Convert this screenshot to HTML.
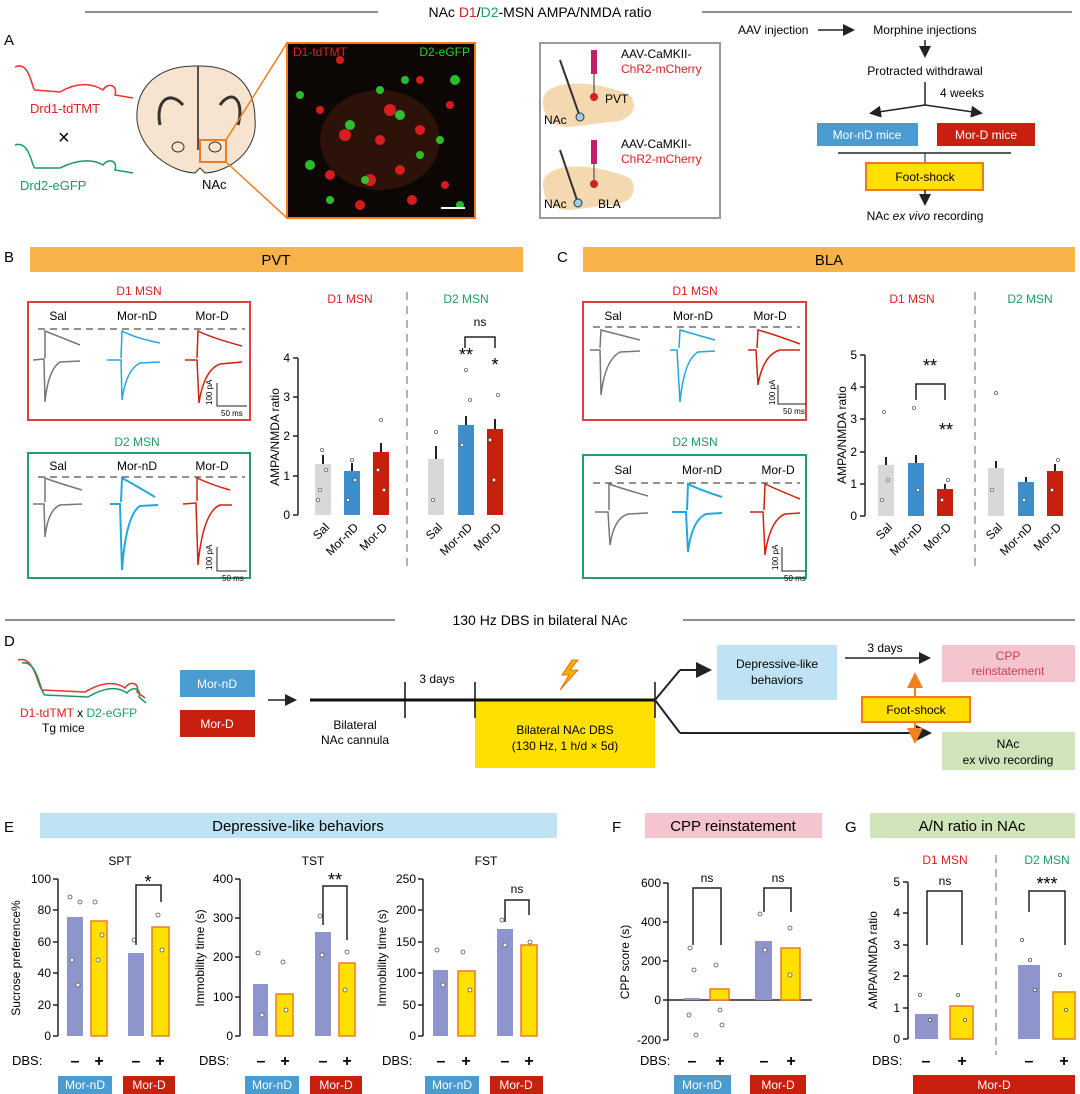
<!DOCTYPE html><html><head><meta charset="utf-8"><style>body{margin:0;background:#fff}svg{display:block}text{font-family:"Liberation Sans",sans-serif}</style></head><body>
<svg width="1080" height="1094" viewBox="0 0 1080 1094" font-size="12">
<defs><marker id="ah" markerWidth="8" markerHeight="8" refX="6" refY="4" orient="auto"><path d="M0,0L8,4L0,8z" fill="#222"/></marker>
<marker id="ao" markerWidth="8" markerHeight="8" refX="6" refY="4" orient="auto"><path d="M0,0L8,4L0,8z" fill="#f08020"/></marker></defs>
<line x1="85" y1="12" x2="378" y2="12" stroke="#222"/><line x1="702" y1="12" x2="1072" y2="12" stroke="#222"/>
<text x="540" y="17" text-anchor="middle" font-size="14">NAc <tspan fill="#e02020">D1</tspan>/<tspan fill="#1aa060">D2</tspan>-MSN AMPA/NMDA ratio</text>
<text x="4" y="45" font-size="15">A</text>
<path d="M15,67 C30,60 32,90 35,90 L60,92 C80,80 95,85 103,90 C108,82 118,85 115,95 L133,98" fill="none" stroke="#f03030" stroke-width="1.5"/>
<text x="30" y="113" fill="#e02020" font-size="13">Drd1-tdTMT</text>
<text x="58" y="144" font-size="20">×</text>
<path d="M15,145 C30,140 32,168 35,168 L60,168 C80,158 95,160 103,165 C108,158 118,160 115,170 L133,173" fill="none" stroke="#1a9a60" stroke-width="1.5"/>
<text x="20" y="190" fill="#1a9a60" font-size="13">Drd2-eGFP</text>
<path d="M195,66 C160,66 135,85 137,120 C140,150 170,172 195,173 L200,168 L205,173 C230,172 258,150 255,120 C255,85 235,66 200,66 Z" fill="#f7e4cf" stroke="#333"/>
<line x1="198" y1="66" x2="198" y2="150" stroke="#222" stroke-width="1.5"/>
<path d="M160,125 C155,100 170,90 183,105 M220,105 C232,88 245,100 238,125" fill="none" stroke="#333" stroke-width="3"/>
<ellipse cx="178" cy="147" rx="6" ry="5" fill="none" stroke="#333"/><ellipse cx="215" cy="147" rx="6" ry="5" fill="none" stroke="#333"/>
<rect x="200" y="140" width="26" height="22" fill="none" stroke="#f07a20" stroke-width="2"/>
<line x1="226" y1="140" x2="287" y2="43" stroke="#f07a20" stroke-width="1.5"/><line x1="226" y1="162" x2="287" y2="218" stroke="#f07a20" stroke-width="1.5"/>
<text x="202" y="189" font-size="13">NAc</text>
<rect x="287" y="43" width="188" height="175" fill="#0c0604" stroke="#f07a20" stroke-width="2"/>
<ellipse cx="380" cy="140" rx="60" ry="50" fill="#6a2a10" opacity=".35"/>
<g fill="#e82020" opacity=".9"><circle cx="340" cy="60" r="4"/><circle cx="390" cy="110" r="6"/><circle cx="345" cy="135" r="6"/><circle cx="400" cy="170" r="5"/><circle cx="320" cy="110" r="4"/><circle cx="420" cy="130" r="5"/><circle cx="380" cy="140" r="5"/><circle cx="450" cy="105" r="4"/><circle cx="360" cy="205" r="5"/><circle cx="412" cy="200" r="5"/><circle cx="445" cy="185" r="4"/><circle cx="330" cy="175" r="5"/><circle cx="370" cy="180" r="6"/><circle cx="420" cy="80" r="4"/></g>
<g fill="#2fd030" opacity=".9"><circle cx="350" cy="125" r="5"/><circle cx="300" cy="95" r="4"/><circle cx="310" cy="165" r="5"/><circle cx="365" cy="180" r="4"/><circle cx="400" cy="115" r="5"/><circle cx="405" cy="80" r="4"/><circle cx="455" cy="80" r="5"/><circle cx="330" cy="200" r="4"/><circle cx="440" cy="140" r="4"/><circle cx="460" cy="205" r="4"/><circle cx="420" cy="155" r="4"/><circle cx="380" cy="90" r="4"/></g>
<text x="293" y="56" fill="#e02020" font-size="12">D1-tdTMT</text><text x="470" y="56" fill="#30d030" font-size="12" text-anchor="end">D2-eGFP</text>
<line x1="441" y1="208" x2="465" y2="208" stroke="#fff" stroke-width="2"/>
<rect x="540" y="43" width="180" height="175" fill="none" stroke="#999" stroke-width="2"/>
<path d="M543,100 C545,80 590,78 630,95 C640,108 630,122 610,122 L570,127 C552,127 543,118 543,100Z" fill="#f4d8b0"/>
<path d="M543,183 C545,163 590,161 630,178 C640,191 630,205 610,205 L570,210 C552,210 543,201 543,183Z" fill="#f4d8b0"/>
<rect x="591" y="50" width="6" height="24" fill="#c0206a"/><line x1="594" y1="74" x2="594" y2="96" stroke="#333"/><circle cx="594" cy="97" r="4" fill="#d02020"/>
<rect x="591" y="140" width="6" height="24" fill="#c0206a"/><line x1="594" y1="164" x2="594" y2="184" stroke="#333"/><circle cx="594" cy="184" r="4" fill="#d02020"/>
<line x1="560" y1="60" x2="580" y2="117" stroke="#333" stroke-width="2"/><circle cx="580" cy="117" r="4" fill="#9cd0f0" stroke="#333"/>
<line x1="560" y1="150" x2="578" y2="203" stroke="#333" stroke-width="2"/><circle cx="578" cy="203" r="4" fill="#9cd0f0" stroke="#333"/>
<text x="544" y="124" font-size="12">NAc</text><text x="605" y="103" font-size="12">PVT</text>
<text x="544" y="208" font-size="12">NAc</text><text x="598" y="208" font-size="12">BLA</text>
<text x="621" y="58" font-size="12">AAV-CaMKII-</text><text x="621" y="73" font-size="12" fill="#e02020">ChR2-mCherry</text>
<text x="621" y="148" font-size="12">AAV-CaMKII-</text><text x="621" y="163" font-size="12" fill="#e02020">ChR2-mCherry</text>
<text x="738" y="34" font-size="12">AAV injection</text><line x1="818" y1="30" x2="852" y2="30" stroke="#222" stroke-width="1.5" marker-end="url(#ah)"/>
<text x="925" y="34" font-size="12" text-anchor="middle">Morphine injections</text>
<line x1="925" y1="40" x2="925" y2="55" stroke="#222" stroke-width="1.5" marker-end="url(#ah)"/>
<text x="925" y="75" font-size="12" text-anchor="middle">Protracted withdrawal</text>
<line x1="925" y1="82" x2="925" y2="105" stroke="#222" stroke-width="1.5"/>
<line x1="925" y1="105" x2="872" y2="113" stroke="#222" stroke-width="1.5" marker-end="url(#ah)"/><line x1="925" y1="105" x2="980" y2="113" stroke="#222" stroke-width="1.5" marker-end="url(#ah)"/>
<text x="940" y="97" font-size="12">4 weeks</text>
<rect x="817" y="123" width="101" height="23" fill="#4a9bd0"/><text x="867" y="139" fill="#fff" text-anchor="middle" font-size="12">Mor-nD mice</text>
<rect x="937" y="123" width="98" height="23" fill="#c8200e"/><text x="986" y="139" fill="#fff" text-anchor="middle" font-size="12">Mor-D mice</text>
<line x1="838" y1="153" x2="1011" y2="153" stroke="#222" stroke-width="1.5"/><line x1="925" y1="153" x2="925" y2="163" stroke="#222"/>
<rect x="866" y="163" width="117" height="27" fill="#ffe000" stroke="#f07a20" stroke-width="2"/><text x="925" y="181" text-anchor="middle" font-size="12">Foot-shock</text>
<line x1="925" y1="190" x2="925" y2="203" stroke="#222" stroke-width="1.5" marker-end="url(#ah)"/>
<text x="925" y="220" text-anchor="middle" font-size="12">NAc <tspan font-style="italic">ex vivo</tspan> recording</text>
<text x="4" y="262" font-size="15">B</text><rect x="30" y="247" width="493" height="25" fill="#f7b24a"/><text x="276" y="265" font-size="15" text-anchor="middle">PVT</text>
<text x="557" y="262" font-size="15">C</text><rect x="583" y="247" width="492" height="25" fill="#f7b24a"/><text x="829" y="265" font-size="15" text-anchor="middle">BLA</text>
<rect x="28" y="302" width="222" height="118" fill="none" stroke="#e04040" stroke-width="2"/>
<text x="139" y="295" fill="#e02020" text-anchor="middle" font-size="12">D1 MSN</text>
<text x="58" y="320" text-anchor="middle" font-size="12">Sal</text><text x="137" y="320" text-anchor="middle" font-size="12">Mor-nD</text><text x="212" y="320" text-anchor="middle" font-size="12">Mor-D</text>
<line x1="38" y1="329" x2="245" y2="329" stroke="#222" stroke-dasharray="7,5"/>
<path d="M33,360 L44,359 L45,402 Q48,370 60,362 L80,361 M45,358 L45,331 Q55,335 80,345" fill="none" stroke="#777" stroke-width="1.5"/>
<path d="M107,360 L121,360 L122,400 Q126,370 140,363 L160,362 M121,358 L122,331 Q135,338 160,343" fill="none" stroke="#20a8e0" stroke-width="1.5"/>
<path d="M185,360 L197,360 L199,403 Q204,370 220,364 L242,362 M197,358 L198,331 Q212,338 242,346" fill="none" stroke="#d02010" stroke-width="1.5"/>
<path d="M217,383 L217,406 L247,406" fill="none" stroke="#222"/><text x="212" y="405" font-size="8" transform="rotate(-90 212 405)">100 pA</text><text x="221" y="416" font-size="8">50 ms</text>
<rect x="28" y="453" width="222" height="125" fill="none" stroke="#20a070" stroke-width="2"/>
<text x="137" y="446" fill="#1aa060" text-anchor="middle" font-size="12">D2 MSN</text>
<text x="58" y="470" text-anchor="middle" font-size="12">Sal</text><text x="137" y="470" text-anchor="middle" font-size="12">Mor-nD</text><text x="212" y="470" text-anchor="middle" font-size="12">Mor-D</text>
<line x1="38" y1="477" x2="245" y2="477" stroke="#222" stroke-dasharray="7,5"/>
<path d="M33,504 L44,504 L45,537 Q48,510 60,505 L82,504 M45,502 L45,478 Q55,482 82,490" fill="none" stroke="#777" stroke-width="1.5"/>
<path d="M110,504 L120,504 L122,570 Q126,515 140,506 L158,505 M121,502 L122,478 Q135,485 155,497" fill="none" stroke="#20a8e0" stroke-width="2"/>
<path d="M183,504 L196,503 L198,565 Q203,512 220,505 L232,505 M197,501 L197,478 Q212,485 230,490" fill="none" stroke="#d02010" stroke-width="1.5"/>
<path d="M217,547 L217,571 L247,571" fill="none" stroke="#222"/><text x="212" y="570" font-size="8" transform="rotate(-90 212 570)">100 pA</text><text x="222" y="581" font-size="8">50 ms</text>
<rect x="583" y="302" width="223" height="118" fill="none" stroke="#e04040" stroke-width="2"/>
<text x="695" y="295" fill="#e02020" text-anchor="middle" font-size="12">D1 MSN</text>
<text x="613" y="320" text-anchor="middle" font-size="12">Sal</text><text x="693" y="320" text-anchor="middle" font-size="12">Mor-nD</text><text x="770" y="320" text-anchor="middle" font-size="12">Mor-D</text>
<line x1="593" y1="327" x2="800" y2="327" stroke="#222" stroke-dasharray="7,5"/>
<path d="M590,350 L600,350 L601,395 Q605,360 620,352 L640,351 M600,348 L601,330 Q612,333 640,340" fill="none" stroke="#777" stroke-width="1.5"/>
<path d="M670,350 L677,350 L680,402 Q684,360 698,352 L715,351 M679,348 L680,330 Q690,333 715,340" fill="none" stroke="#20a8e0" stroke-width="1.5"/>
<path d="M748,350 L756,350 L758,385 Q763,355 780,350 L800,350 M757,348 L758,330 Q770,333 800,344" fill="none" stroke="#d02010" stroke-width="1.5"/>
<path d="M778,385 L778,404 L806,404" fill="none" stroke="#222"/><text x="775" y="405" font-size="8" transform="rotate(-90 775 405)">100 pA</text><text x="783" y="414" font-size="8">50 ms</text>
<rect x="583" y="455" width="223" height="123" fill="none" stroke="#20a070" stroke-width="2"/>
<text x="695" y="446" fill="#1aa060" text-anchor="middle" font-size="12">D2 MSN</text>
<text x="623" y="474" text-anchor="middle" font-size="12">Sal</text><text x="702" y="474" text-anchor="middle" font-size="12">Mor-nD</text><text x="778" y="474" text-anchor="middle" font-size="12">Mor-D</text>
<line x1="593" y1="483" x2="800" y2="483" stroke="#222" stroke-dasharray="7,5"/>
<path d="M595,512 L608,512 L610,545 Q614,518 628,514 L648,513 M609,510 L609,484 Q620,488 648,496" fill="none" stroke="#777" stroke-width="1.5"/>
<path d="M672,512 L686,512 L688,552 Q692,520 706,514 L722,513 M687,510 L688,484 Q700,490 722,497" fill="none" stroke="#20a8e0" stroke-width="2"/>
<path d="M750,512 L763,512 L765,555 Q770,520 785,514 L800,513 M764,510 L765,484 Q778,490 800,499" fill="none" stroke="#d02010" stroke-width="1.5"/>
<path d="M782,547 L782,571 L806,571" fill="none" stroke="#222"/><text x="778" y="570" font-size="8" transform="rotate(-90 778 570)">100 pA</text><text x="784" y="581" font-size="8">50 ms</text>
<g stroke="#222" stroke-width="1.5"><line x1="298" y1="358" x2="298" y2="515"/><line x1="293" y1="358" x2="298" y2="358"/><line x1="293" y1="397" x2="298" y2="397"/><line x1="293" y1="436" x2="298" y2="436"/><line x1="293" y1="476" x2="298" y2="476"/><line x1="293" y1="515" x2="298" y2="515"/></g>
<g font-size="12" text-anchor="end"><text x="290" y="362">4</text><text x="290" y="401">3</text><text x="290" y="440">2</text><text x="290" y="480">1</text><text x="290" y="519">0</text></g>
<text x="279" y="437" font-size="12" text-anchor="middle" transform="rotate(-90 279 437)">AMPA/NMDA ratio</text>
<rect x="315" y="464" width="16" height="51" fill="#d8d8d8"/><rect x="344" y="471" width="16" height="44" fill="#3d8fcc"/><rect x="373" y="452" width="16" height="63" fill="#c8200e"/>
<rect x="428" y="459" width="16" height="56" fill="#d8d8d8"/><rect x="458" y="425" width="16" height="90" fill="#3d8fcc"/><rect x="487" y="429" width="16" height="86" fill="#c8200e"/>
<g stroke="#222" stroke-width="2"><line x1="323" y1="464" x2="323" y2="455"/><line x1="352" y1="471" x2="352" y2="463"/><line x1="381" y1="452" x2="381" y2="443"/><line x1="436" y1="459" x2="436" y2="446"/><line x1="466" y1="425" x2="466" y2="416"/><line x1="495" y1="429" x2="495" y2="419"/></g>
<g fill="#fff" stroke="#666" stroke-width=".8"><circle cx="320" cy="490" r="1.6"/><circle cx="326" cy="470" r="1.6"/><circle cx="322" cy="450" r="1.6"/><circle cx="318" cy="500" r="1.6"/><circle cx="348" cy="500" r="1.6"/><circle cx="355" cy="480" r="1.6"/><circle cx="352" cy="460" r="1.6"/><circle cx="378" cy="470" r="1.6"/><circle cx="384" cy="490" r="1.6"/><circle cx="381" cy="420" r="1.6"/><circle cx="433" cy="500" r="1.6"/><circle cx="436" cy="432" r="1.6"/><circle cx="462" cy="445" r="1.6"/><circle cx="470" cy="400" r="1.6"/><circle cx="466" cy="370" r="1.6"/><circle cx="490" cy="440" r="1.6"/><circle cx="498" cy="395" r="1.6"/><circle cx="494" cy="480" r="1.6"/></g>
<line x1="407" y1="292" x2="407" y2="568" stroke="#666" stroke-dasharray="8,6"/>
<text x="350" y="303" fill="#e02020" text-anchor="middle" font-size="12">D1 MSN</text><text x="466" y="303" fill="#1aa060" text-anchor="middle" font-size="12">D2 MSN</text>
<path d="M465,348 L465,337 L495,337 L495,348" fill="none" stroke="#222" stroke-width="1.5"/><text x="480" y="326" text-anchor="middle" font-size="12">ns</text>
<text x="466" y="361" text-anchor="middle" font-size="18">**</text><text x="495" y="371" text-anchor="middle" font-size="18">*</text>
<g font-size="12" text-anchor="end"><text transform="translate(330,528) rotate(-45)">Sal</text><text transform="translate(359,528) rotate(-45)">Mor-nD</text><text transform="translate(388,528) rotate(-45)">Mor-D</text><text transform="translate(443,528) rotate(-45)">Sal</text><text transform="translate(473,528) rotate(-45)">Mor-nD</text><text transform="translate(502,528) rotate(-45)">Mor-D</text></g>
<g stroke="#222" stroke-width="1.5"><line x1="865" y1="355" x2="865" y2="516"/><line x1="860" y1="355" x2="865" y2="355"/><line x1="860" y1="387" x2="865" y2="387"/><line x1="860" y1="419" x2="865" y2="419"/><line x1="860" y1="452" x2="865" y2="452"/><line x1="860" y1="484" x2="865" y2="484"/><line x1="860" y1="516" x2="865" y2="516"/></g>
<g font-size="12" text-anchor="end"><text x="857" y="359">5</text><text x="857" y="391">4</text><text x="857" y="423">3</text><text x="857" y="456">2</text><text x="857" y="488">1</text><text x="857" y="520">0</text></g>
<text x="846" y="435" font-size="12" text-anchor="middle" transform="rotate(-90 846 435)">AMPA/NMDA ratio</text>
<rect x="878" y="465" width="16" height="51" fill="#d8d8d8"/><rect x="908" y="463" width="16" height="53" fill="#3d8fcc"/><rect x="937" y="489" width="16" height="27" fill="#c8200e"/>
<rect x="988" y="468" width="16" height="48" fill="#d8d8d8"/><rect x="1018" y="482" width="16" height="34" fill="#3d8fcc"/><rect x="1047" y="471" width="16" height="45" fill="#c8200e"/>
<g stroke="#222" stroke-width="2"><line x1="886" y1="465" x2="886" y2="457"/><line x1="916" y1="463" x2="916" y2="455"/><line x1="945" y1="489" x2="945" y2="484"/><line x1="996" y1="468" x2="996" y2="461"/><line x1="1026" y1="482" x2="1026" y2="477"/><line x1="1055" y1="471" x2="1055" y2="464"/></g>
<g fill="#fff" stroke="#666" stroke-width=".8"><circle cx="884" cy="412" r="1.6"/><circle cx="888" cy="480" r="1.6"/><circle cx="882" cy="500" r="1.6"/><circle cx="914" cy="408" r="1.6"/><circle cx="918" cy="490" r="1.6"/><circle cx="942" cy="500" r="1.6"/><circle cx="948" cy="480" r="1.6"/><circle cx="996" cy="393" r="1.6"/><circle cx="992" cy="490" r="1.6"/><circle cx="1024" cy="500" r="1.6"/><circle cx="1052" cy="490" r="1.6"/><circle cx="1058" cy="460" r="1.6"/></g>
<line x1="975" y1="292" x2="975" y2="568" stroke="#666" stroke-dasharray="8,6"/>
<text x="912" y="303" fill="#e02020" text-anchor="middle" font-size="12">D1 MSN</text><text x="1030" y="303" fill="#1aa060" text-anchor="middle" font-size="12">D2 MSN</text>
<path d="M916,400 L916,384 L945,384 L945,400" fill="none" stroke="#222" stroke-width="1.5"/><text x="930" y="372" text-anchor="middle" font-size="18">**</text><text x="946" y="436" text-anchor="middle" font-size="18">**</text>
<g font-size="12" text-anchor="end"><text transform="translate(893,528) rotate(-45)">Sal</text><text transform="translate(923,528) rotate(-45)">Mor-nD</text><text transform="translate(952,528) rotate(-45)">Mor-D</text><text transform="translate(1003,528) rotate(-45)">Sal</text><text transform="translate(1033,528) rotate(-45)">Mor-nD</text><text transform="translate(1062,528) rotate(-45)">Mor-D</text></g>
<line x1="5" y1="620" x2="395" y2="620" stroke="#222"/><line x1="683" y1="620" x2="1075" y2="620" stroke="#222"/>
<text x="540" y="625" text-anchor="middle" font-size="14">130 Hz DBS in bilateral NAc</text>
<text x="4" y="646" font-size="15">D</text>
<path d="M18,660 C35,655 38,688 42,690 L85,692 C105,680 118,683 125,688 C130,680 140,683 137,692 L145,698" fill="none" stroke="#f03030" stroke-width="1.5"/>
<path d="M22,663 C38,660 40,693 45,695 L88,697 C108,685 120,688 127,693 C132,686 142,688 139,697 L146,703" fill="none" stroke="#1a9a60" stroke-width="1.5"/>
<text x="20" y="717" font-size="12"><tspan fill="#e02020">D1-tdTMT</tspan> x <tspan fill="#1aa060">D2-eGFP</tspan></text><text x="42" y="732" font-size="12">Tg mice</text>
<rect x="180" y="670" width="75" height="27" fill="#4a9bd0"/><text x="217" y="688" fill="#fff" text-anchor="middle" font-size="12">Mor-nD</text>
<rect x="180" y="710" width="75" height="27" fill="#c8200e"/><text x="217" y="728" fill="#fff" text-anchor="middle" font-size="12">Mor-D</text>
<line x1="268" y1="700" x2="294" y2="700" stroke="#222" stroke-width="1.5" marker-end="url(#ah)"/>
<rect x="475" y="700" width="180" height="68" fill="#ffe000"/>
<text x="565" y="734" text-anchor="middle" font-size="12">Bilateral NAc DBS</text><text x="565" y="750" text-anchor="middle" font-size="12">(130 Hz, 1 h/d × 5d)</text>
<line x1="310" y1="700" x2="655" y2="700" stroke="#111" stroke-width="3"/>
<g stroke="#111" stroke-width="1.5"><line x1="405" y1="682" x2="405" y2="718"/><line x1="475" y1="682" x2="475" y2="718"/><line x1="655" y1="682" x2="655" y2="718"/></g>
<text x="437" y="683" text-anchor="middle" font-size="12">3 days</text>
<text x="355" y="729" text-anchor="middle" font-size="12">Bilateral</text><text x="355" y="744" text-anchor="middle" font-size="12">NAc cannula</text>
<path d="M572,660 L562,675 L569,675 L560,690 L578,670 L570,670 L578,660Z" fill="#f7b000" stroke="#e06000" stroke-width=".8"/>
<line x1="655" y1="700" x2="680" y2="670" stroke="#222" stroke-width="2"/><line x1="680" y1="670" x2="708" y2="670" stroke="#222" stroke-width="2" marker-end="url(#ah)"/>
<line x1="655" y1="700" x2="680" y2="733" stroke="#222" stroke-width="2"/><line x1="680" y1="733" x2="928" y2="733" stroke="#222" stroke-width="2" marker-end="url(#ah)"/>
<rect x="717" y="645" width="120" height="55" fill="#bfe3f3"/><text x="777" y="668" text-anchor="middle" font-size="12">Depressive-like</text><text x="777" y="684" text-anchor="middle" font-size="12">behaviors</text>
<line x1="845" y1="658" x2="928" y2="658" stroke="#222" stroke-width="1.5" marker-end="url(#ah)"/><text x="885" y="652" text-anchor="middle" font-size="12">3 days</text>
<rect x="942" y="645" width="133" height="37" fill="#f4c4cf"/><text x="1008" y="660" text-anchor="middle" font-size="12" fill="#d04050">CPP</text><text x="1008" y="675" text-anchor="middle" font-size="12" fill="#d04050">reinstatement</text>
<line x1="915" y1="697" x2="915" y2="676" stroke="#f08020" stroke-width="2" marker-end="url(#ao)"/><line x1="915" y1="722" x2="915" y2="740" stroke="#f08020" stroke-width="2" marker-end="url(#ao)"/>
<rect x="862" y="697" width="108" height="25" fill="#ffe000" stroke="#f07a20" stroke-width="2"/><text x="916" y="714" text-anchor="middle" font-size="12">Foot-shock</text>
<rect x="942" y="732" width="133" height="38" fill="#cfe4b8"/><text x="1008" y="748" text-anchor="middle" font-size="12">NAc</text><text x="1008" y="764" text-anchor="middle" font-size="12">ex vivo recording</text>
<text x="4" y="832" font-size="15">E</text><rect x="40" y="813" width="517" height="25" fill="#bfe3f3"/><text x="298" y="831" text-anchor="middle" font-size="15">Depressive-like behaviors</text>
<text x="612" y="832" font-size="15">F</text><rect x="645" y="813" width="177" height="25" fill="#f4c4cf"/><text x="733" y="831" text-anchor="middle" font-size="15">CPP reinstatement</text>
<text x="845" y="832" font-size="15">G</text><rect x="870" y="813" width="205" height="25" fill="#cfe4b8"/><text x="972" y="831" text-anchor="middle" font-size="15">A/N ratio in NAc</text>
<text x="120" y="865" text-anchor="middle" font-size="12">SPT</text>
<g stroke="#222" stroke-width="1.5"><line x1="58" y1="879" x2="58" y2="1036"/><line x1="53" y1="879" x2="58" y2="879"/><line x1="53" y1="910" x2="58" y2="910"/><line x1="53" y1="942" x2="58" y2="942"/><line x1="53" y1="973" x2="58" y2="973"/><line x1="53" y1="1005" x2="58" y2="1005"/><line x1="53" y1="1036" x2="58" y2="1036"/></g>
<g font-size="12" text-anchor="end"><text x="51" y="883">100</text><text x="51" y="914">80</text><text x="51" y="946">60</text><text x="51" y="977">40</text><text x="51" y="1009">20</text><text x="51" y="1040">0</text></g>
<text x="20" y="958" font-size="12" text-anchor="middle" transform="rotate(-90 20 958)">Sucrose preference%</text>
<rect x="67" y="917" width="16" height="119" fill="#8e95cc"/><rect x="91" y="921" width="16" height="115" fill="#ffe000" stroke="#f07a20" stroke-width="1.5"/><rect x="128" y="953" width="16" height="83" fill="#8e95cc"/><rect x="152" y="927" width="17" height="109" fill="#ffe000" stroke="#f07a20" stroke-width="1.5"/>
<g fill="#fff" stroke="#555" stroke-width=".8"><circle cx="70" cy="897" r="2"/><circle cx="80" cy="902" r="2"/><circle cx="72" cy="960" r="2"/><circle cx="78" cy="985" r="2"/><circle cx="95" cy="902" r="2"/><circle cx="102" cy="935" r="2"/><circle cx="98" cy="960" r="2"/><circle cx="134" cy="940" r="2"/><circle cx="158" cy="915" r="2"/><circle cx="162" cy="950" r="2"/></g>
<path d="M136,945 L136,885 L161,885 L161,902" fill="none" stroke="#222" stroke-width="1.5"/><text x="148" y="888" text-anchor="middle" font-size="18">*</text>
<text x="313" y="865" text-anchor="middle" font-size="12">TST</text>
<g stroke="#222" stroke-width="1.5"><line x1="240" y1="879" x2="240" y2="1036"/><line x1="235" y1="879" x2="240" y2="879"/><line x1="235" y1="918" x2="240" y2="918"/><line x1="235" y1="957" x2="240" y2="957"/><line x1="235" y1="997" x2="240" y2="997"/><line x1="235" y1="1036" x2="240" y2="1036"/></g>
<g font-size="12" text-anchor="end"><text x="233" y="883">400</text><text x="233" y="922">300</text><text x="233" y="961">200</text><text x="233" y="1001">100</text><text x="233" y="1040">0</text></g>
<text x="204" y="958" font-size="12" text-anchor="middle" transform="rotate(-90 204 958)">Immobility time (s)</text>
<rect x="253" y="984" width="15" height="52" fill="#8e95cc"/><rect x="276" y="994" width="17" height="42" fill="#ffe000" stroke="#f07a20" stroke-width="1.5"/><rect x="315" y="932" width="16" height="104" fill="#8e95cc"/><rect x="339" y="963" width="16" height="73" fill="#ffe000" stroke="#f07a20" stroke-width="1.5"/>
<g fill="#fff" stroke="#555" stroke-width=".8"><circle cx="258" cy="953" r="2"/><circle cx="262" cy="1015" r="2"/><circle cx="283" cy="962" r="2"/><circle cx="286" cy="1010" r="2"/><circle cx="320" cy="916" r="2"/><circle cx="322" cy="955" r="2"/><circle cx="347" cy="952" r="2"/><circle cx="345" cy="990" r="2"/></g>
<path d="M323,925 L323,886 L347,886 L347,940" fill="none" stroke="#222" stroke-width="1.5"/><text x="335" y="886" text-anchor="middle" font-size="18">**</text>
<text x="486" y="865" text-anchor="middle" font-size="12">FST</text>
<g stroke="#222" stroke-width="1.5"><line x1="423" y1="879" x2="423" y2="1036"/><line x1="418" y1="879" x2="423" y2="879"/><line x1="418" y1="910" x2="423" y2="910"/><line x1="418" y1="942" x2="423" y2="942"/><line x1="418" y1="973" x2="423" y2="973"/><line x1="418" y1="1005" x2="423" y2="1005"/><line x1="418" y1="1036" x2="423" y2="1036"/></g>
<g font-size="12" text-anchor="end"><text x="416" y="883">250</text><text x="416" y="914">200</text><text x="416" y="946">150</text><text x="416" y="977">100</text><text x="416" y="1009">50</text><text x="416" y="1040">0</text></g>
<text x="386" y="958" font-size="12" text-anchor="middle" transform="rotate(-90 386 958)">Immobility time (s)</text>
<rect x="433" y="970" width="15" height="66" fill="#8e95cc"/><rect x="458" y="971" width="17" height="65" fill="#ffe000" stroke="#f07a20" stroke-width="1.5"/><rect x="497" y="929" width="16" height="107" fill="#8e95cc"/><rect x="521" y="945" width="16" height="91" fill="#ffe000" stroke="#f07a20" stroke-width="1.5"/>
<g fill="#fff" stroke="#555" stroke-width=".8"><circle cx="437" cy="950" r="2"/><circle cx="443" cy="985" r="2"/><circle cx="463" cy="952" r="2"/><circle cx="470" cy="990" r="2"/><circle cx="502" cy="920" r="2"/><circle cx="505" cy="945" r="2"/><circle cx="530" cy="942" r="2"/></g>
<path d="M505,922 L505,900 L529,900 L529,915" fill="none" stroke="#222" stroke-width="1.5"/><text x="517" y="893" text-anchor="middle" font-size="12">ns</text>
<g stroke="#222" stroke-width="1.5"><line x1="668" y1="883" x2="668" y2="1040"/><line x1="663" y1="883" x2="668" y2="883"/><line x1="663" y1="922" x2="668" y2="922"/><line x1="663" y1="961" x2="668" y2="961"/><line x1="663" y1="1040" x2="668" y2="1040"/><line x1="663" y1="1000" x2="812" y2="1000"/></g>
<g font-size="12" text-anchor="end"><text x="661" y="887">600</text><text x="661" y="926">400</text><text x="661" y="965">200</text><text x="661" y="1004">0</text><text x="661" y="1044">-200</text></g>
<text x="629" y="962" font-size="12" text-anchor="middle" transform="rotate(-90 629 962)">CPP score (s)</text>
<rect x="684" y="998" width="16" height="2" fill="#8e95cc"/><rect x="710" y="989" width="19" height="11" fill="#ffe000" stroke="#f07a20" stroke-width="1.5"/><rect x="755" y="941" width="17" height="59" fill="#8e95cc"/><rect x="781" y="948" width="19" height="52" fill="#ffe000" stroke="#f07a20" stroke-width="1.5"/>
<g fill="#fff" stroke="#555" stroke-width=".8"><circle cx="690" cy="948" r="2"/><circle cx="694" cy="970" r="2"/><circle cx="689" cy="1015" r="2"/><circle cx="696" cy="1035" r="2"/><circle cx="716" cy="965" r="2"/><circle cx="720" cy="1010" r="2"/><circle cx="722" cy="1025" r="2"/><circle cx="760" cy="914" r="2"/><circle cx="765" cy="950" r="2"/><circle cx="790" cy="928" r="2"/><circle cx="790" cy="975" r="2"/></g>
<path d="M693,945 L693,888 L721,888 L721,945" fill="none" stroke="#222" stroke-width="1.5"/><text x="707" y="882" text-anchor="middle" font-size="12">ns</text>
<path d="M764,912 L764,888 L791,888 L791,912" fill="none" stroke="#222" stroke-width="1.5"/><text x="778" y="882" text-anchor="middle" font-size="12">ns</text>
<g stroke="#222" stroke-width="1.5"><line x1="908" y1="882" x2="908" y2="1039"/><line x1="903" y1="882" x2="908" y2="882"/><line x1="903" y1="913" x2="908" y2="913"/><line x1="903" y1="945" x2="908" y2="945"/><line x1="903" y1="976" x2="908" y2="976"/><line x1="903" y1="1008" x2="908" y2="1008"/><line x1="903" y1="1039" x2="908" y2="1039"/></g>
<g font-size="12" text-anchor="end"><text x="900" y="886">5</text><text x="900" y="917">4</text><text x="900" y="949">3</text><text x="900" y="980">2</text><text x="900" y="1012">1</text><text x="900" y="1043">0</text></g>
<text x="877" y="960" font-size="12" text-anchor="middle" transform="rotate(-90 877 960)">AMPA/NMDA ratio</text>
<rect x="915" y="1014" width="23" height="25" fill="#8e95cc"/><rect x="950" y="1006" width="23" height="33" fill="#ffe000" stroke="#f07a20" stroke-width="1.5"/><rect x="1018" y="965" width="22" height="74" fill="#8e95cc"/><rect x="1053" y="992" width="22" height="47" fill="#ffe000" stroke="#f07a20" stroke-width="1.5"/>
<g fill="#fff" stroke="#555" stroke-width=".8"><circle cx="920" cy="995" r="1.6"/><circle cx="930" cy="1020" r="1.6"/><circle cx="958" cy="995" r="1.6"/><circle cx="965" cy="1020" r="1.6"/><circle cx="1022" cy="940" r="1.6"/><circle cx="1030" cy="960" r="1.6"/><circle cx="1035" cy="990" r="1.6"/><circle cx="1060" cy="975" r="1.6"/><circle cx="1066" cy="1010" r="1.6"/></g>
<line x1="996" y1="855" x2="996" y2="1055" stroke="#666" stroke-dasharray="8,6"/>
<text x="945" y="864" fill="#e02020" text-anchor="middle" font-size="12">D1 MSN</text><text x="1047" y="864" fill="#1aa060" text-anchor="middle" font-size="12">D2 MSN</text>
<path d="M927,945 L927,891 L962,891 L962,945" fill="none" stroke="#222" stroke-width="1.5"/><text x="945" y="885" text-anchor="middle" font-size="12">ns</text>
<path d="M1029,912 L1029,891 L1065,891 L1065,945" fill="none" stroke="#222" stroke-width="1.5"/><text x="1047" y="890" text-anchor="middle" font-size="18">***</text>
<g font-size="13"><text x="12" y="1065">DBS:</text><text x="199" y="1065">DBS:</text><text x="382" y="1065">DBS:</text><text x="640" y="1065">DBS:</text><text x="872" y="1065">DBS:</text></g>
<g font-size="16" font-weight="bold" text-anchor="middle">
<text x="75" y="1066">–</text><text x="99" y="1066">+</text><text x="136" y="1066">–</text><text x="160" y="1066">+</text>
<text x="261" y="1066">–</text><text x="285" y="1066">+</text><text x="323" y="1066">–</text><text x="347" y="1066">+</text>
<text x="441" y="1066">–</text><text x="466" y="1066">+</text><text x="505" y="1066">–</text><text x="529" y="1066">+</text>
<text x="692" y="1066">–</text><text x="720" y="1066">+</text><text x="764" y="1066">–</text><text x="791" y="1066">+</text>
<text x="926" y="1066">–</text><text x="962" y="1066">+</text><text x="1029" y="1066">–</text><text x="1064" y="1066">+</text></g>
<g font-size="12" fill="#fff" text-anchor="middle">
<rect x="58" y="1076" width="54" height="18" fill="#4a9bd0"/><text x="85" y="1089">Mor-nD</text>
<rect x="123" y="1076" width="52" height="18" fill="#c8200e"/><text x="149" y="1089">Mor-D</text>
<rect x="245" y="1076" width="54" height="18" fill="#4a9bd0"/><text x="272" y="1089">Mor-nD</text>
<rect x="310" y="1076" width="52" height="18" fill="#c8200e"/><text x="336" y="1089">Mor-D</text>
<rect x="425" y="1076" width="54" height="18" fill="#4a9bd0"/><text x="452" y="1089">Mor-nD</text>
<rect x="490" y="1076" width="53" height="18" fill="#c8200e"/><text x="516" y="1089">Mor-D</text>
<rect x="674" y="1075" width="57" height="19" fill="#4a9bd0"/><text x="702" y="1089">Mor-nD</text>
<rect x="750" y="1075" width="56" height="19" fill="#c8200e"/><text x="778" y="1089">Mor-D</text>
<rect x="913" y="1075" width="162" height="19" fill="#c8200e"/><text x="994" y="1089">Mor-D</text></g>
</svg></body></html>
